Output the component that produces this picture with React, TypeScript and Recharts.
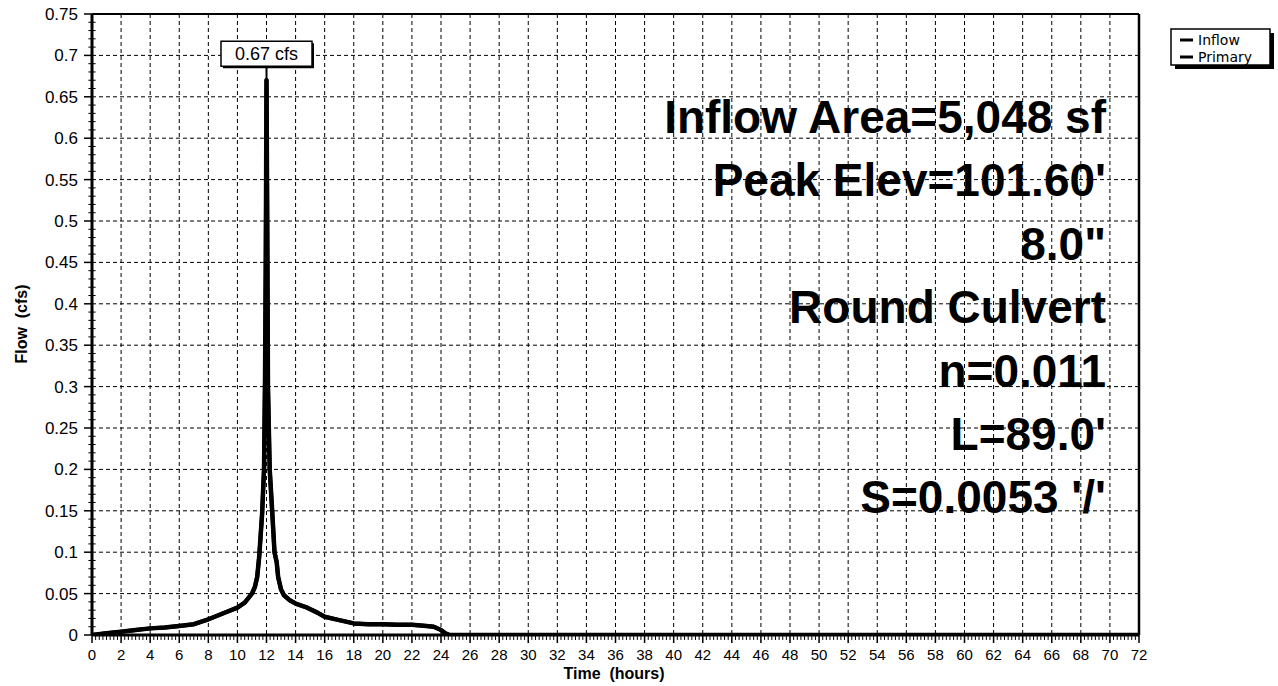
import React from 'react';
import { LineChart, Line, XAxis, YAxis, CartesianGrid, ReferenceLine, ReferenceDot } from 'recharts';

const hours = [0, 1, 2, 3, 4, 5, 6, 7, 8, 9, 10, 10.5, 11, 11.2, 11.36, 11.5, 11.7, 11.83, 11.9, 11.95, 12, 12.05, 12.1, 12.22, 12.4, 12.55, 12.7, 12.8, 13, 13.2, 13.6, 14, 14.8, 15.5, 16, 17, 18, 19, 20, 21, 22, 23, 23.5, 24, 24.3, 24.6, 30, 36, 42, 48, 54, 60, 66, 72];
const inflowCfs = [0, 0.002, 0.004, 0.006, 0.008, 0.009, 0.011, 0.013, 0.019, 0.026, 0.033, 0.039, 0.05, 0.058, 0.07, 0.095, 0.147, 0.2, 0.31, 0.45, 0.67, 0.5, 0.3, 0.2, 0.147, 0.1, 0.088, 0.07, 0.055, 0.048, 0.042, 0.038, 0.033, 0.027, 0.022, 0.018, 0.014, 0.013, 0.013, 0.0125, 0.0125, 0.011, 0.01, 0.006, 0.002, 0, 0, 0, 0, 0, 0, 0, 0, 0];
const primaryCfs = [0, 0.002, 0.004, 0.006, 0.008, 0.009, 0.011, 0.013, 0.019, 0.026, 0.033, 0.039, 0.05, 0.058, 0.07, 0.095, 0.147, 0.2, 0.31, 0.45, 0.67, 0.5, 0.3, 0.2, 0.147, 0.1, 0.088, 0.07, 0.055, 0.048, 0.042, 0.038, 0.033, 0.027, 0.022, 0.018, 0.014, 0.013, 0.013, 0.0125, 0.0125, 0.011, 0.01, 0.006, 0.002, 0, 0, 0, 0, 0, 0, 0, 0, 0];

const xTicks = [0, 2, 4, 6, 8, 10, 12, 14, 16, 18, 20, 22, 24, 26, 28, 30, 32, 34, 36, 38, 40, 42, 44, 46, 48, 50, 52, 54, 56, 58, 60, 62, 64, 66, 68, 70, 72];
const yTicks = [0, 0.05, 0.1, 0.15, 0.2, 0.25, 0.3, 0.35, 0.4, 0.45, 0.5, 0.55, 0.6, 0.65, 0.7, 0.75];

const peakHour = 12;
const peakCfs = 0.67;
const peakLabel = '0.67 cfs';

const annotations = [
  'Inflow Area=5,048 sf',
  "Peak Elev=101.60'",
  '8.0"',
  'Round Culvert',
  'n=0.011',
  "L=89.0'",
  "S=0.0053 '/'",
];

const legendItems = ['Inflow', 'Primary'];

// minor axis tick positions (every 0.25 h and every 0.01 cfs)
const xMinorTicks = Array.from({ length: 289 }, (_, i) => i / 4).filter((v) => v % 2 !== 0);
const yMinorTicks = Array.from({ length: 76 }, (_, i) => i / 100).filter((_, i) => i % 5 !== 0);

const data = hours.map((h, i) => ({ h, inflow: inflowCfs[i], primary: primaryCfs[i] }));

const FONT = '"Liberation Sans", Arial, Helvetica, sans-serif';

const PeakShape = (props: any) => {
  const { cx, cy } = props;
  if (cx == null || cy == null) return null;
  const w = 91;
  const hgt = 25;
  const bottom = cy - 14;
  const top = bottom - hgt;
  return (
    <g>
      <line x1={cx} y1={cy} x2={cx} y2={bottom} stroke="#000" strokeWidth={2} />
      <rect x={cx - w / 2 + 2} y={top + 2} width={w} height={hgt} fill="#000" />
      <rect x={cx - w / 2} y={top} width={w} height={hgt} fill="#fff" stroke="#000" strokeWidth={1.5} />
      <text x={cx} y={bottom - 6} textAnchor="middle" fontFamily={FONT} fontSize={18} fill="#000">
        {peakLabel}
      </text>
    </g>
  );
};

// px-per-unit helpers for minor tick lengths (in data units)
const X_TICK_LEN = 0.006; // ~5 px below the time axis
const Y_TICK_LEN = 0.25; // ~3.5 px either side of the flow axis

export default function App() {
  const annBaseline0 = 133;
  const annStep = 63.4;
  return (
    <div style={{ position: 'absolute', left: 0, top: 0, width: 1278, height: 686, background: '#fff' }}>
      <LineChart
        width={1278}
        height={686}
        data={data}
        margin={{ top: 14, right: 139, bottom: 0, left: 0 }}
      >
        <CartesianGrid stroke="#000" strokeWidth={1} strokeDasharray="4 3" />
        <XAxis
          dataKey="h"
          type="number"
          domain={[0, 72]}
          ticks={xTicks}
          interval={0}
          tickSize={8}
          tickMargin={6}
          tick={{ fontFamily: FONT, fontSize: 15, fill: '#000' }}
          tickLine={{ stroke: '#000', strokeWidth: 1.5 }}
          axisLine={{ stroke: '#000', strokeWidth: 3 }}
          height={51}
          allowDataOverflow
        />
        <YAxis
          type="number"
          domain={[0, 0.75]}
          ticks={yTicks}
          interval={0}
          tickSize={8}
          tickMargin={6}
          tick={{ fontFamily: FONT, fontSize: 17, fill: '#000' }}
          tickLine={{ stroke: '#000', strokeWidth: 1.5 }}
          axisLine={{ stroke: '#000', strokeWidth: 3 }}
          width={92}
          allowDataOverflow
        />
        {xMinorTicks.map((t) => (
          <ReferenceLine
            key={'xm' + t}
            segment={[{ x: t, y: 0 }, { x: t, y: -X_TICK_LEN }]}
            stroke="#000"
            strokeWidth={1}
            ifOverflow="visible"
          />
        ))}
        {yMinorTicks.map((v) => (
          <ReferenceLine
            key={'ym' + v}
            segment={[{ x: -Y_TICK_LEN, y: v }, { x: Y_TICK_LEN, y: v }]}
            stroke="#000"
            strokeWidth={1}
            ifOverflow="visible"
          />
        ))}
        <ReferenceLine y={0.75} stroke="#000" strokeWidth={2} />
        <ReferenceLine x={72} stroke="#000" strokeWidth={2.5} />
        <Line
          type="linear"
          dataKey="inflow"
          stroke="#000"
          strokeWidth={4.5}
          strokeLinejoin="round"
          dot={false}
          isAnimationActive={false}
        />
        <Line
          type="linear"
          dataKey="primary"
          stroke="#000"
          strokeWidth={4}
          strokeLinejoin="round"
          dot={false}
          isAnimationActive={false}
        />
        <ReferenceDot x={peakHour} y={peakCfs} r={0} shape={PeakShape} ifOverflow="visible" />
      </LineChart>
      <svg
        width={1278}
        height={686}
        style={{ position: 'absolute', left: 0, top: 0, pointerEvents: 'none' }}
      >
        {annotations.map((t, i) => (
          <text
            key={t}
            x={1106}
            y={annBaseline0 + i * annStep}
            textAnchor="end"
            fontFamily={FONT}
            fontWeight="bold"
            fontSize={46}
            fill="#000"
          >
            {t}
          </text>
        ))}
        <text x={614} y={679} textAnchor="middle" fontFamily={FONT} fontWeight="bold" fontSize={16} fill="#000" xmlSpace="preserve">
          {'Time  (hours)'}
        </text>
        <text
          x={0}
          y={0}
          transform="translate(27,324) rotate(-90)"
          textAnchor="middle"
          fontFamily={FONT}
          fontWeight="bold"
          fontSize={16}
          fill="#000"
          xmlSpace="preserve"
        >
          {'Flow  (cfs)'}
        </text>
        <g>
          <rect x={1175} y={33} width={99} height={36} fill="#000" />
          <rect x={1171} y={29} width={99} height={36} fill="#fff" stroke="#000" strokeWidth={1.5} />
          {legendItems.map((name, i) => (
            <g key={name}>
              <line x1={1180} x2={1193} y1={40 + i * 17} y2={40 + i * 17} stroke="#000" strokeWidth={3} />
              <text x={1198} y={45 + i * 17} fontFamily='"DejaVu Sans", sans-serif' fontSize={14} fill="#000">
                {name}
              </text>
            </g>
          ))}
        </g>
      </svg>
    </div>
  );
}
